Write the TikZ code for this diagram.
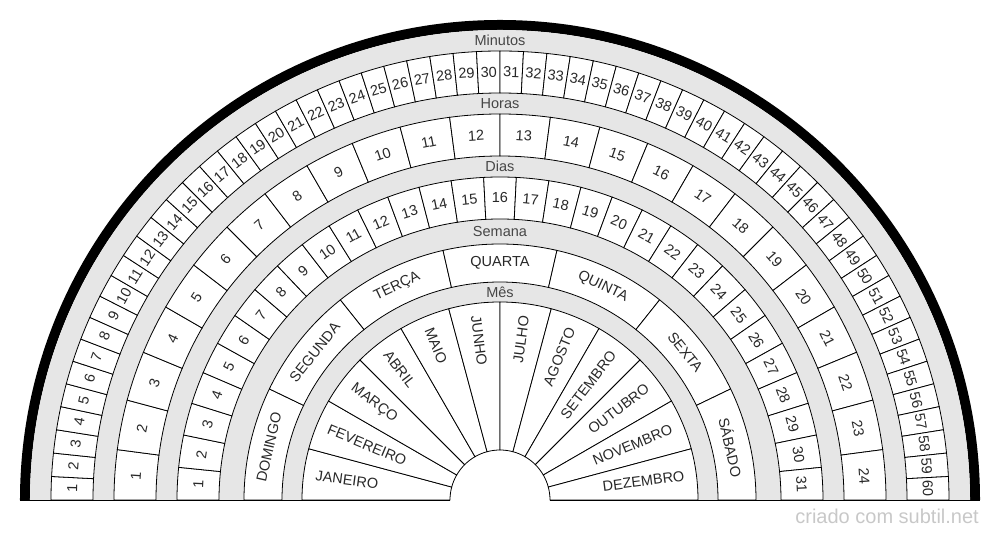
\documentclass[tikz,border=0pt]{standalone}
\usepackage{fontspec}
\setmainfont{Liberation Sans}
\usepackage{xcolor}

\definecolor{bandgray}{RGB}{230,230,230}
\definecolor{inkgray}{RGB}{40,40,40}
\definecolor{labelgray}{RGB}{70,70,70}
\definecolor{creditgray}{RGB}{200,200,200}

\tikzset{
  cell/.style={draw=black,fill=white,line width=0.8},
  celltext/.style={font=\fontsize{14.5}{15}\selectfont,text=inkgray,inner sep=0pt},
  bandlabel/.style={font=\fontsize{14.5}{15}\selectfont,text=labelgray,inner sep=0pt},
}

% one ring cell: start angle, end angle, inner radius, outer radius
\newcommand{\ringcell}[4]{%
  \draw[cell] (#1:#3) -- (#1:#4) arc[start angle=#1,end angle=#2,radius=#4]
    -- (#2:#3) arc[start angle=#2,end angle=#1,radius=#3] -- cycle;}

\begin{document}
\begin{tikzpicture}[x=1pt,y=1pt]
        \useasboundingbox (-500,-40) rectangle (500,500);
        % rim and grey bed
        \fill[black] (-480,0) arc[start angle=180,end angle=0,radius=480]
          -- (470,0) arc[start angle=0,end angle=180,radius=470] -- cycle;
        \fill[bandgray] (-470,0) arc[start angle=180,end angle=0,radius=470]
          -- (50,0) arc[start angle=0,end angle=180,radius=50] -- cycle;
        % minutos
        \foreach \n in {1,...,60} {
          \pgfmathsetmacro\a{180-(\n-1)*3}
          \pgfmathsetmacro\m{\a-1.5}
          \ringcell{\a}{\a-3}{407}{449}
          \node[celltext,rotate=\m-90] (min\n) at (\m:428) {\n};
        }
        % horas
        \foreach \n in {1,...,24} {
          \pgfmathsetmacro\a{180-(\n-1)*7.5}
          \pgfmathsetmacro\m{\a-3.75}
          \ringcell{\a}{\a-7.5}{344}{386}
          \node[celltext,rotate=\m-90] (hora\n) at (\m:365) {\n};
        }
        % dias
        \foreach \n in {1,...,31} {
          \pgfmathsetmacro\a{180-(\n-1)*180/31}
          \pgfmathsetmacro\m{\a-90/31}
          \ringcell{\a}{\a-180/31}{281}{323}
          \node[celltext,rotate=\m-90] (dia\n) at (\m:302) {\n};
        }
        % semana
        \foreach \d [count=\n] in {DOMINGO,SEGUNDA,TERÇA,QUARTA,QUINTA,SEXTA,SÁBADO} {
          \pgfmathsetmacro\a{180-(\n-1)*180/7}
          \pgfmathsetmacro\m{\a-90/7}
          \ringcell{\a}{\a-180/7}{218}{256}
          \node[celltext,rotate=\m-90] (sem\n) at (\m:237) {\d};
        }
        % mes
        \foreach \d [count=\n] in {JANEIRO,FEVEREIRO,MARÇO,ABRIL,MAIO,JUNHO,
            JULHO,AGOSTO,SETEMBRO,OUTUBRO,NOVEMBRO,DEZEMBRO} {
          \pgfmathsetmacro\a{180-(\n-1)*15}
          \pgfmathsetmacro\m{\a-7.5}
          \ringcell{\a}{\a-15}{50}{198}
          \ifnum\n<7
            \node[celltext,rotate=\m-180,anchor=west] (mes\n) at (\m:186) {\d};
          \else
            \node[celltext,rotate=\m,anchor=east] (mes\n) at (\m:186) {\d};
          \fi
        }
        \draw[line width=0.8] (-480,0) -- (-50,0) (50,0) -- (480,0);
        % band titles
        \node[bandlabel] (lblmin) at (0,459.5) {Minutos};
        \node[bandlabel] (lblhora) at (0,396.5) {Horas};
        \node[bandlabel] (lbldia) at (0,333.5) {Dias};
        \node[bandlabel] (lblsem) at (0,268.5) {Semana};
        \node[bandlabel] (lblmes) at (0,208) {Mês};
        \node[font=\fontsize{20}{20}\selectfont,text=creditgray,inner sep=0pt,anchor=base east]
          (credit) at (479,-24) {criado com subtil.net};
      \end{tikzpicture}
\end{document}
